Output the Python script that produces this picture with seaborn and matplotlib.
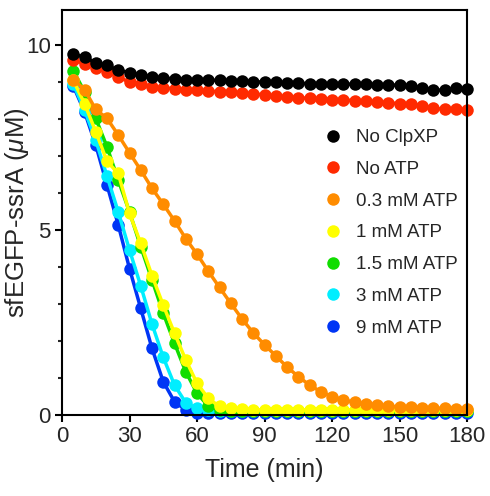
import matplotlib
matplotlib.use("Agg")
import matplotlib.pyplot as plt
from matplotlib.lines import Line2D
from matplotlib.ticker import MultipleLocator
import seaborn as sns
import pandas as pd

times = [5, 10, 15, 20, 25, 30, 35, 40, 45, 50, 55, 60, 65, 70, 75, 80, 85, 90,
         95, 100, 105, 110, 115, 120, 125, 130, 135, 140, 145, 150, 155, 160,
         165, 170, 175, 180]

no_clpxp = [9.75, 9.68, 9.52, 9.45, 9.32, 9.26, 9.19, 9.14, 9.11, 9.09, 9.07, 9.06,
            9.05, 9.05, 9.04, 9.03, 9.01, 9.0, 8.99, 8.98, 8.97, 8.96, 8.96, 8.95,
            8.95, 8.94, 8.94, 8.93, 8.92, 8.92, 8.9, 8.85, 8.79, 8.78, 8.83, 8.81]
no_atp = [9.6, 9.5, 9.37, 9.28, 9.14, 9.0, 8.96, 8.87, 8.85, 8.82, 8.8, 8.78,
          8.76, 8.74, 8.72, 8.7, 8.68, 8.66, 8.62, 8.6, 8.58, 8.56, 8.55, 8.53,
          8.52, 8.5, 8.48, 8.46, 8.44, 8.42, 8.4, 8.36, 8.3, 8.26, 8.27, 8.25]
atp_03 = [9.07, 8.8, 8.26, 8.02, 7.57, 7.09, 6.62, 6.13, 5.7, 5.25, 4.77, 4.35,
          3.89, 3.45, 3.02, 2.6, 2.22, 1.9, 1.6, 1.3, 1.04, 0.81, 0.63, 0.5,
          0.41, 0.34, 0.3, 0.27, 0.24, 0.22, 0.21, 0.2, 0.19, 0.18, 0.17, 0.17]
atp_1 = [9.05, 8.42, 7.66, 6.86, 6.53, 5.45, 4.64, 3.77, 2.97, 2.21, 1.49, 0.86,
         0.45, 0.23, 0.18, 0.15, 0.14, 0.14, 0.14, 0.14, 0.14, 0.14, 0.14, 0.14,
         0.14, 0.14, 0.14, 0.14, 0.14, 0.14, 0.14, 0.14, 0.14, 0.14, 0.14, 0.14]
atp_15 = [9.31, 8.74, 8.02, 7.25, 6.35, 5.49, 4.55, 3.65, 2.75, 1.94, 1.17, 0.59,
          0.24, 0.14, 0.1, 0.1, 0.1, 0.1, 0.1, 0.1, 0.1, 0.1, 0.1, 0.1,
          0.1, 0.1, 0.1, 0.1, 0.1, 0.1, 0.1, 0.1, 0.1, 0.1, 0.1, 0.1]
atp_3 = [8.95, 8.25, 7.43, 6.46, 5.49, 4.46, 3.49, 2.46, 1.56, 0.81, 0.33, 0.18,
         0.13, 0.1, 0.1, 0.1, 0.1, 0.1, 0.1, 0.1, 0.1, 0.1, 0.1, 0.1,
         0.1, 0.1, 0.1, 0.1, 0.1, 0.1, 0.1, 0.1, 0.1, 0.1, 0.1, 0.1]
atp_9 = [8.9, 8.2, 7.3, 6.22, 5.14, 3.96, 2.88, 1.8, 0.9, 0.36, 0.14, 0.06,
         0.06, 0.06, 0.06, 0.06, 0.06, 0.06, 0.06, 0.06, 0.06, 0.06, 0.06, 0.06,
         0.06, 0.06, 0.06, 0.06, 0.06, 0.06, 0.06, 0.06, 0.06, 0.06, 0.06, 0.06]

labels = ["No ClpXP", "No ATP", "0.3 mM ATP", "1 mM ATP", "1.5 mM ATP",
          "3 mM ATP", "9 mM ATP"]
series = [no_clpxp, no_atp, atp_03, atp_1, atp_15, atp_3, atp_9]
colors = ["#000000", "#ff2a00", "#ff8c00", "#ffff00", "#11dd00", "#00eeff", "#0035f5"]

rows = []
for lab, vals in zip(labels, series):
    for t, v in zip(times, vals):
        rows.append({"Time": t, "Value": v, "Condition": lab})
df = pd.DataFrame(rows)

sns.set_style("ticks")
plt.rcParams["font.family"] = ["Liberation Sans", "DejaVu Sans"]
plt.rcParams["mathtext.fontset"] = "custom"
plt.rcParams["mathtext.it"] = "Liberation Sans:italic"
plt.rcParams["mathtext.rm"] = "Liberation Sans"

fig = plt.figure(figsize=(4.9, 4.96), dpi=100)
ax = fig.add_axes([62 / 490, 1 - 415 / 496, 405 / 490, 405 / 496])

palette = dict(zip(labels, colors))
sns.lineplot(data=df, x="Time", y="Value", hue="Condition",
             hue_order=labels[::-1], palette=palette, estimator=None,
             marker="o", markersize=9, markeredgewidth=0, linewidth=2.5,
             legend=False, clip_on=False, ax=ax)

ax.set_xlim(0, 180)
ax.set_ylim(0, 10.95)
ax.set_xticks([0, 30, 60, 90, 120, 150, 180])
ax.set_yticks([0, 5, 10])
ax.yaxis.set_minor_locator(MultipleLocator(1))
ax.tick_params(axis="both", which="major", direction="out", length=5, width=1.5,
               labelsize=16, pad=3, color="black")
ax.tick_params(axis="y", which="minor", direction="out", length=3, width=1.5)
for sp in ax.spines.values():
    sp.set_linewidth(1.5)
    sp.set_color("black")
    sp.set_visible(True)

ax.set_xlabel("Time (min)", fontsize=18, labelpad=8)
ax.set_ylabel(r"sfEGFP-ssrA ($\mu$M)", fontsize=18.5)
ax.yaxis.set_label_coords(-0.077, 0.5)

handles = [Line2D([], [], marker="o", ls="none", color=c, markersize=9,
                  markeredgewidth=0) for c in colors]
ax.legend(handles, labels, frameon=False, loc="center left",
          bbox_to_anchor=(0.646, 0.45), fontsize=13.5, borderpad=0,
          borderaxespad=0, handlelength=1.0, handletextpad=0.73,
          labelspacing=0.78)

fig.savefig("out.png", dpi=100)
